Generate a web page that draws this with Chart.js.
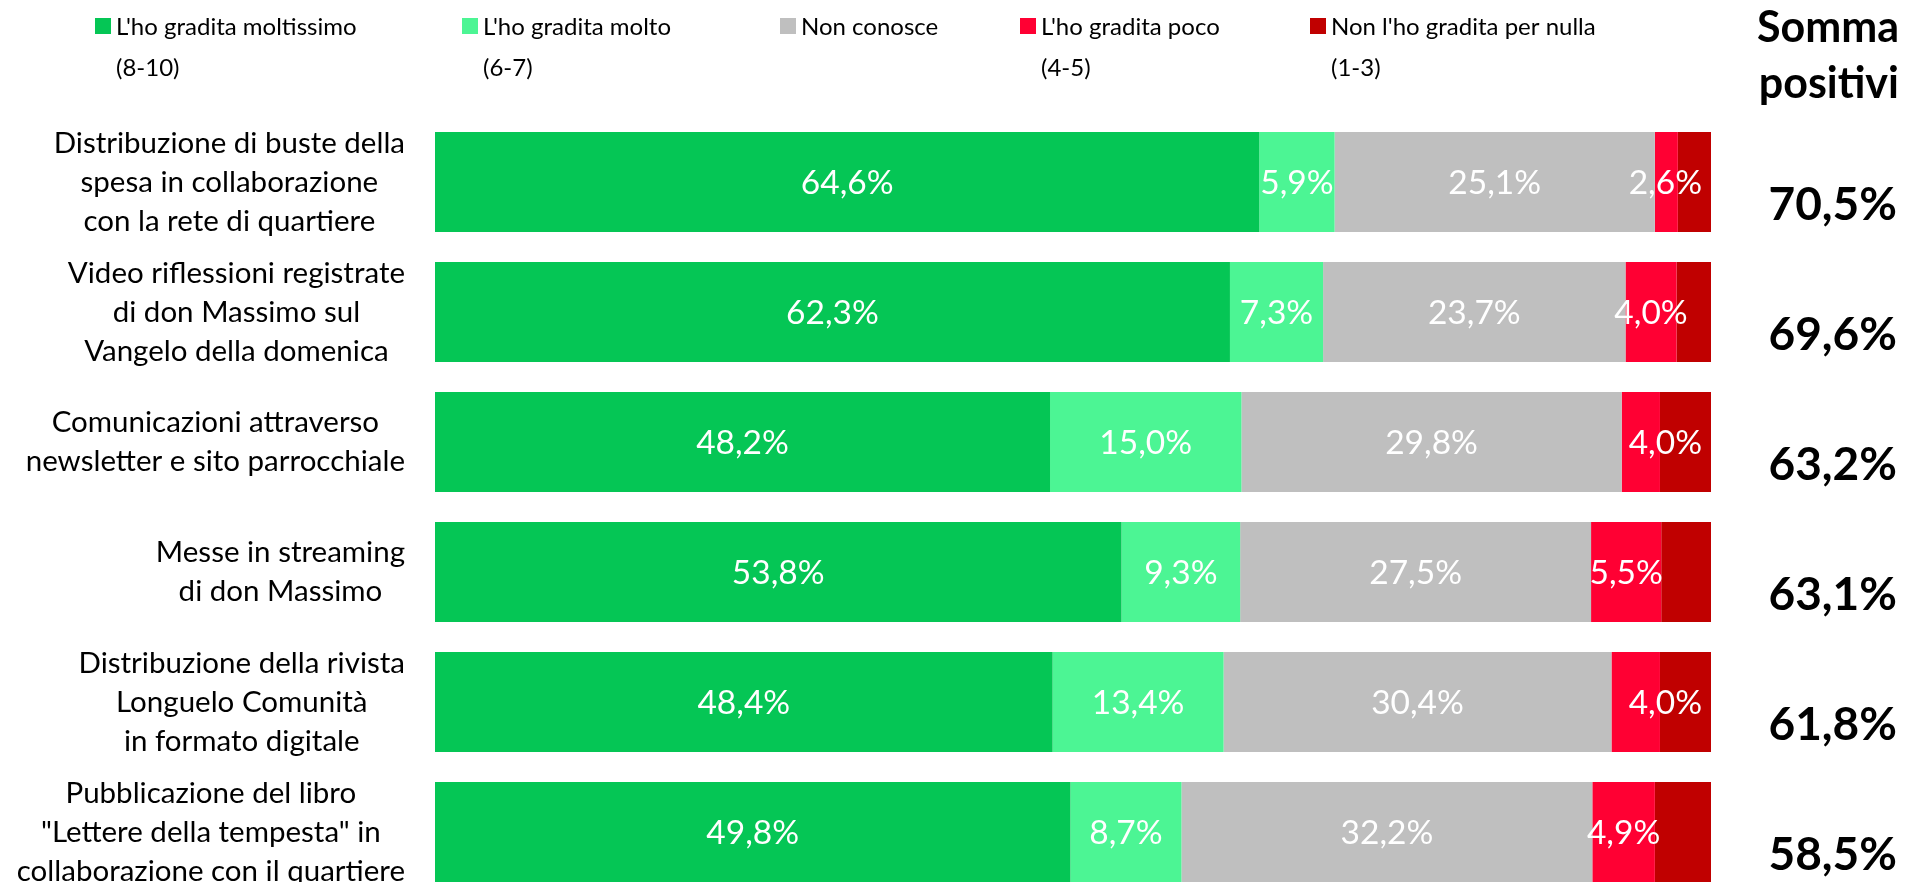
<!DOCTYPE html>
<html>
<head>
<meta charset="utf-8">
<script src="https://cdn.jsdelivr.net/npm/chart.js@4/dist/chart.umd.min.js"></script>
<style>
  html, body { margin: 0; padding: 0; background: #fff; overflow: hidden; }
  #wrap { width: 1908px; height: 900px; }
</style>
</head>
<body>
<div id="wrap"><canvas id="c" width="1908" height="900"></canvas></div>
<script>
// ---- Data ----
const categories = [
  ["Distribuzione di buste della", "spesa in collaborazione", "con la rete di quartiere"],
  ["Video riflessioni registrate", "di don Massimo sul", "Vangelo della domenica"],
  ["Comunicazioni attraverso", "newsletter e sito parrocchiale"],
  ["Messe in streaming", "di don Massimo"],
  ["Distribuzione della rivista", "Longuelo Comunità", "in formato digitale"],
  ["Pubblicazione del libro", "\"Lettere della tempesta\" in", "collaborazione con il quartiere"]
];
const seriesNames = [
  ["L'ho gradita moltissimo", "(8-10)"],
  ["L'ho gradita molto", "(6-7)"],
  ["Non conosce"],
  ["L'ho gradita poco", "(4-5)"],
  ["Non l'ho gradita per nulla", "(1-3)"]
];
const moltissimo = [64.6, 62.3, 48.2, 53.8, 48.4, 49.8];
const molto      = [5.9, 7.3, 15.0, 9.3, 13.4, 8.7];
const nonConosce = [25.1, 23.7, 29.8, 27.5, 30.4, 32.2];
const poco       = [1.8, 4.0, 3.0, 5.5, 3.8, 4.9];
const perNulla   = [2.6, 2.7, 4.0, 3.9, 4.0, 4.4];
// which of the two small segments carries a visible value label in the original
const pocoLabelShown  = [false, true, false, true, false, true];
const nullaLabelShown = [true, false, true, false, true, false];
const sommaPositivi = [70.5, 69.6, 63.2, 63.1, 61.8, 58.5];
const sommaTitle = ["Somma", "positivi"];

const colors = ["#05C655", "#4CF594", "#BFBFBF", "#FF0033", "#C00000"];
const FONT = "Lato, 'Open Sans', sans-serif";

function fmt(v) { return v.toFixed(1).replace('.', ',') + '%'; }

const overlay = {
  id: 'overlay',
  afterDatasetsDraw(chart) {
    const ctx = chart.ctx;
    const yScale = chart.scales.y;
    const area = chart.chartArea;
    ctx.save();

    // data labels (kept inside the plot area, as the original does)
    ctx.fillStyle = '#fff';
    ctx.font = '33.5px ' + FONT;
    ctx.textAlign = 'center';
    ctx.textBaseline = 'middle';
    for (let d = 0; d < 5; d++) {
      const meta = chart.getDatasetMeta(d);
      meta.data.forEach((el, i) => {
        if (d === 3 && !pocoLabelShown[i]) return;
        if (d === 4 && !nullaLabelShown[i]) return;
        const txt = fmt(chart.data.datasets[d].data[i]);
        const w = ctx.measureText(txt).width;
        let x = (el.x + el.base) / 2;
        x = Math.min(x, area.right - 9 - w / 2);
        ctx.fillText(txt, x, el.y + 1);
      });
    }

    // category labels (centered lines, block right-aligned)
    ctx.fillStyle = '#000';
    ctx.font = '29.5px ' + FONT;
    const lh = 39;
    categories.forEach((lines, i) => {
      const cy = yScale.getPixelForValue(i);
      const maxW = Math.max(...lines.map(l => ctx.measureText(l).width));
      const cx = 405 - maxW / 2;
      lines.forEach((l, k) => {
        ctx.fillText(l, cx, cy + (k - (lines.length - 1) / 2) * lh);
      });
    });

    // somma positivi column
    ctx.textAlign = 'right';
    ctx.textBaseline = 'alphabetic';
    ctx.font = 'bold 46px ' + FONT;
    sommaPositivi.forEach((v, i) => {
      const cy = yScale.getPixelForValue(i);
      ctx.fillText(fmt(v), 1897, cy + 38);
    });
    ctx.font = 'bold 43px ' + FONT;
    ctx.fillText(sommaTitle[0], 1899, 42);
    ctx.fillText(sommaTitle[1], 1899, 98);

    // legend
    const lx = [95, 462, 780, 1020, 1310];
    ctx.textAlign = 'left';
    ctx.font = '24px ' + FONT;
    seriesNames.forEach((lines, s) => {
      ctx.fillStyle = colors[s];
      ctx.fillRect(lx[s], 18, 16, 16);
      ctx.fillStyle = '#000';
      lines.forEach((l, k) => {
        ctx.fillText(l, lx[s] + 21, 35 + k * 41);
      });
    });
    ctx.restore();
  }
};

const datasets = [moltissimo, molto, nonConosce, poco, perNulla].map((arr, s) => ({
  label: seriesNames[s].join(' '),
  data: arr,
  backgroundColor: colors[s],
  borderWidth: 0,
  barPercentage: 1,
  categoryPercentage: 100 / 130
}));

new Chart(document.getElementById('c'), {
  type: 'bar',
  data: { labels: categories.map(c => c.join(' ')), datasets },
  options: {
    indexAxis: 'y',
    responsive: false,
    animation: false,
    layout: { padding: { left: 435, right: 197, top: 117, bottom: 3 } },
    scales: {
      x: { stacked: true, min: 0, max: 100, display: false },
      y: { stacked: true, display: false }
    },
    plugins: { legend: { display: false }, tooltip: { enabled: false } }
  },
  plugins: [overlay]
});
</script>
</body>
</html>
